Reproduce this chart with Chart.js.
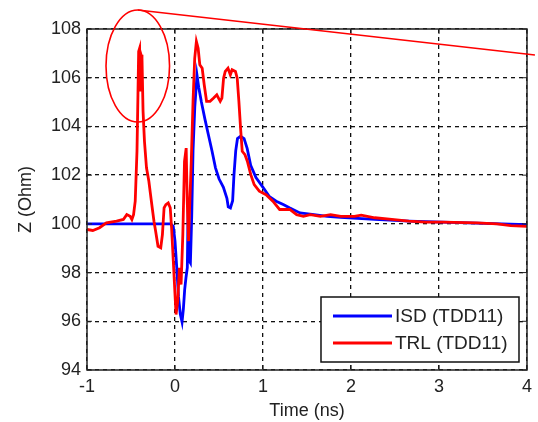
<!DOCTYPE html>
<html>
<head>
<meta charset="utf-8">
<title>TDD11 impedance</title>
<script src="https://cdn.jsdelivr.net/npm/chart.js@4.4.0/dist/chart.umd.min.js"></script>
<style>
  html, body { margin: 0; padding: 0; background: #fff; }
  canvas { display: block; }
</style>
</head>
<body>
<canvas id="myChart" width="538" height="422"></canvas>
<script>
const xTicks = [-1, 0, 1, 2, 3, 4]
const yTicks = [94, 96, 98, 100, 102, 104, 106, 108]

const seriesNames = ['ISD (TDD11)', 'TRL (TDD11)']

// ISD curve
const isdTime = [-1, -0.05, -0.02, 0, 0.02, 0.04, 0.06, 0.08, 0.095, 0.11, 0.125, 0.14, 0.15, 0.16, 0.175,
  0.19, 0.205, 0.225, 0.25, 0.27, 0.3, 0.34, 0.38, 0.42, 0.46, 0.5, 0.55, 0.59, 0.605, 0.63, 0.655,
  0.67, 0.69, 0.71, 0.745, 0.785, 0.82, 0.86, 0.92, 1.0, 1.07, 1.15, 1.23, 1.3, 1.42, 1.58, 1.73,
  1.88, 2.27, 2.66, 3.04, 3.62, 4.0]
const isdZ = [100, 100, 99.9, 99.3, 98.2, 97.0, 96.3, 95.97, 96.5, 97.3, 97.8, 98.2, 100.9, 98.5, 98.4,
  100.3, 103.0, 104.8, 106.1, 105.6, 105.0, 104.3, 103.65, 103.0, 102.3, 101.85, 101.5, 101.05, 100.7, 100.65, 100.95,
  102.0, 103.0, 103.5, 103.6, 103.5, 103.1, 102.4, 101.9, 101.5, 101.13, 100.93, 100.79, 100.66, 100.45, 100.38, 100.31,
  100.27, 100.18, 100.11, 100.07, 100.01, 99.97]

// TRL curve
const trlTime = [-1, -0.934, -0.857, -0.78, -0.664, -0.587, -0.548, -0.51, -0.49, -0.471, -0.452, -0.432,
  -0.421, -0.413, -0.402, -0.394, -0.386, -0.375, -0.363, -0.347, -0.324, -0.297, -0.278, -0.259, -0.239,
  -0.22, -0.193, -0.162, -0.143, -0.124, -0.104, -0.077, -0.054, -0.039, -0.019, 0, 0.012, 0.031, 0.05,
  0.069, 0.089, 0.108, 0.127, 0.139, 0.154, 0.166, 0.185, 0.205, 0.224, 0.243, 0.263, 0.282, 0.309,
  0.332, 0.359, 0.398, 0.436, 0.475, 0.514, 0.533, 0.552, 0.571, 0.602, 0.629, 0.649, 0.687, 0.707,
  0.726, 0.745, 0.764, 0.795, 0.822, 0.861, 0.9, 0.958, 1.035, 1.112, 1.189, 1.305, 1.382, 1.459,
  1.537, 1.653, 1.768, 1.884, 2.039, 2.116, 2.27, 2.463, 2.656, 2.849, 3.042, 3.429, 3.66, 3.815, 4.0]
const trlZ = [99.77, 99.73, 99.84, 100.04, 100.11, 100.18, 100.38, 100.31, 100.18, 100.38, 100.93, 102.98,
  105.3, 107.08, 107.21, 105.44, 106.94, 106.8, 104.62, 103.39, 102.3, 101.75, 101.2, 100.66, 100.11,
  99.7, 99.08, 99.02, 99.56, 100.66, 100.79, 100.86, 100.66, 99.84, 98.47, 97.1, 96.28, 96.83, 98.2,
  97.51, 99.56, 102.57, 103.11, 100.93, 99.29, 100.66, 102.57, 105.03, 106.8, 107.49, 107.21, 106.53, 106.39,
  105.71, 105.03, 105.03, 105.16, 105.3, 105.03, 105.16, 105.98, 106.26, 106.39, 106.12, 106.33, 106.26, 105.98,
  105.03, 103.93, 102.98, 102.84, 102.57, 102.02, 101.61, 101.34, 101.2, 100.93, 100.59, 100.59, 100.38, 100.31,
  100.38, 100.31, 100.38, 100.31, 100.31, 100.36, 100.25, 100.18, 100.11, 100.07, 100.07, 100.04, 100.0, 99.93, 99.9]

// red ring around the TRL spike and the pointer line leaving it
const anelCentro = [-0.423, 106.48]
const anelRaio = [0.361, 2.3]
const setaFim = [4.09, 106.93]

const corTexto = '#222'
const fonte = '"Liberation Sans", Arial, sans-serif'

function pontos(ts, zs) {
  return ts.map((t, i) => ({ x: t, y: zs[i] }))
}

const moldura = {
  id: 'moldura',
  afterDraw(chart) {
    const { ctx, chartArea: a, scales: { x, y } } = chart
    ctx.save()
    ctx.setLineDash([])

    // axes box
    ctx.strokeStyle = '#222'
    ctx.lineWidth = 1.5
    ctx.strokeRect(a.left, a.top, a.right - a.left, a.bottom - a.top)

    // inward tick marks on all four sides
    ctx.lineWidth = 1
    ctx.beginPath()
    xTicks.forEach(v => {
      const px = x.getPixelForValue(v)
      ctx.moveTo(px, a.bottom); ctx.lineTo(px, a.bottom - 5)
      ctx.moveTo(px, a.top); ctx.lineTo(px, a.top + 5)
    })
    yTicks.forEach(v => {
      const py = y.getPixelForValue(v)
      ctx.moveTo(a.left, py); ctx.lineTo(a.left + 5, py)
      ctx.moveTo(a.right, py); ctx.lineTo(a.right - 5, py)
    })
    ctx.stroke()

    // legend box, bottom right corner
    const lw = 198, lh = 65
    const lx = a.right - 8 - lw
    const ly = a.bottom - 8 - lh
    ctx.fillStyle = '#fff'
    ctx.fillRect(lx, ly, lw, lh)
    ctx.strokeStyle = '#111'
    ctx.lineWidth = 1.5
    ctx.strokeRect(lx, ly, lw, lh)
    ctx.font = '19px ' + fonte
    ctx.textBaseline = 'middle'
    ctx.textAlign = 'left'
    chart.data.datasets.forEach((ds, i) => {
      const cy = ly + 19 + i * 27
      ctx.strokeStyle = ds.borderColor
      ctx.lineWidth = 3
      ctx.beginPath()
      ctx.moveTo(lx + 12, cy)
      ctx.lineTo(lx + 71, cy)
      ctx.stroke()
      ctx.fillStyle = corTexto
      ctx.fillText(ds.label, lx + 74, cy + 1)
    })

    // ring and pointer
    const cx = x.getPixelForValue(anelCentro[0])
    const cy = y.getPixelForValue(anelCentro[1])
    const rx = x.getPixelForValue(anelCentro[0] + anelRaio[0]) - cx
    const ry = cy - y.getPixelForValue(anelCentro[1] + anelRaio[1])
    ctx.strokeStyle = '#ff0000'
    ctx.lineWidth = 1.6
    ctx.beginPath()
    ctx.ellipse(cx, cy, rx, ry, 0, 0, Math.PI * 2)
    ctx.stroke()
    ctx.beginPath()
    ctx.moveTo(cx, cy - ry)
    ctx.lineTo(x.getPixelForValue(setaFim[0]), y.getPixelForValue(setaFim[1]))
    ctx.stroke()

    ctx.restore()
  }
}

const ctx = document.getElementById('myChart')

new Chart(ctx, {
  type: 'line',
  data: {
    datasets: [{
      label: seriesNames[0],
      data: pontos(isdTime, isdZ),
      borderColor: '#0000ff',
      borderWidth: 2.8,
      pointRadius: 0,
      tension: 0,
      order: 1
    },
    {
      label: seriesNames[1],
      data: pontos(trlTime, trlZ),
      borderColor: '#ff0000',
      borderWidth: 2.8,
      pointRadius: 0,
      tension: 0,
      order: 0
    }]
  },
  options: {
    responsive: false,
    animation: false,
    layout: { padding: { top: 29, right: 7, left: 0, bottom: 0 } },
    plugins: {
      legend: { display: false },
      tooltip: { enabled: false }
    },
    scales: {
      x: {
        type: 'linear',
        min: xTicks[0],
        max: xTicks[xTicks.length - 1],
        afterBuildTicks: s => { s.ticks = xTicks.map(v => ({ value: v })) },
        afterFit: s => { s.height = 52 },
        grid: { color: '#111', lineWidth: 1.3, drawTicks: false },
        border: { display: false, dash: [4, 4] },
        ticks: { color: corTexto, font: { family: fonte, size: 18 }, padding: 6, maxRotation: 0, autoSkip: false },
        title: { display: true, text: 'Time (ns)', color: corTexto, font: { family: fonte, size: 18 }, padding: { top: 0, bottom: 0 } }
      },
      y: {
        min: yTicks[0],
        max: yTicks[yTicks.length - 1],
        afterBuildTicks: s => { s.ticks = yTicks.map(v => ({ value: v })) },
        afterFit: s => { s.width = 87 },
        grid: { color: '#111', lineWidth: 1.3, drawTicks: false },
        border: { display: false, dash: [4, 4] },
        ticks: { color: corTexto, font: { family: fonte, size: 18 }, padding: 6, autoSkip: false },
        title: { display: true, text: 'Z (Ohm)', color: corTexto, font: { family: fonte, size: 18 }, padding: { top: 15, bottom: 0 } }
      }
    }
  },
  plugins: [moldura]
})
</script>
</body>
</html>
